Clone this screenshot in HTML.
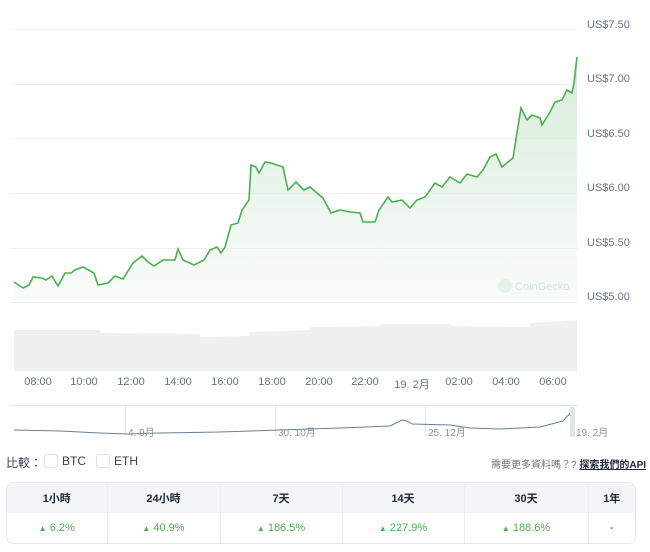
<!DOCTYPE html>
<html><head><meta charset="utf-8"><style>
body{margin:0;width:650px;height:552px;background:#fff;font-family:"Liberation Sans","Noto Sans CJK TC",sans-serif;position:relative;overflow:hidden}
.a{position:absolute}
.yl{position:absolute;left:587px;font-size:11px;color:#6b7280}
.xl{position:absolute;top:376px;font-size:11px;color:#6b7280;transform:translateX(-50%)}
table{border-collapse:collapse;table-layout:fixed}
</style></head><body>
<svg class="a" style="left:0;top:0" width="650" height="450">
<defs>
<linearGradient id="g" x1="0" y1="0" x2="0" y2="1"><stop offset="0" stop-color="#c9e4cc" stop-opacity=".8"/><stop offset="1" stop-color="#eef6ef" stop-opacity=".4"/></linearGradient>
</defs>
<g stroke="#eef0f2" stroke-width="1">
<line x1="11" x2="578" y1="29.5" y2="29.5"/><line x1="11" x2="578" y1="84.5" y2="84.5"/><line x1="11" x2="578" y1="138.5" y2="138.5"/><line x1="11" x2="578" y1="193.5" y2="193.5"/><line x1="11" x2="578" y1="248.5" y2="248.5"/><line x1="11" x2="578" y1="302.5" y2="302.5"/>
</g>
<path d="M14,282 L23,288 L29,285 L33,277 L42,278 L46,280 L52,276 L58,286 L65,273 L71,273 L75,270 L83,267 L94,273 L98,285 L108,283 L115,276 L123,279 L133,263 L142,256 L148,262 L154,266 L163,260 L175,260 L178,249 L183,260 L194,265 L204,260 L210,250 L217,247 L221,253 L225,247 L231,225 L238,223 L242,210 L249,200 L251,165 L256,167 L259,173 L265,162 L271,163 L283,167 L288,190 L296,182 L304,190 L310,187 L317,193 L323,198 L331,213 L340,210 L350,212 L360,213 L363,222 L375,222 L379,210 L388,197 L392,202 L402,200 L410,208 L417,200 L425,197 L435,183 L442,187 L450,177 L460,183 L467,174 L477,177 L483,170 L490,157 L496,154 L502,167 L508,162 L513,158 L521,108 L527,120 L532,115 L540,118 L542,125 L550,112 L555,102 L562,100 L567,90 L572,93 L574,83 L577,57 L577,300 L14,300 Z" fill="url(#g)"/>
<path d="M14,282 L23,288 L29,285 L33,277 L42,278 L46,280 L52,276 L58,286 L65,273 L71,273 L75,270 L83,267 L94,273 L98,285 L108,283 L115,276 L123,279 L133,263 L142,256 L148,262 L154,266 L163,260 L175,260 L178,249 L183,260 L194,265 L204,260 L210,250 L217,247 L221,253 L225,247 L231,225 L238,223 L242,210 L249,200 L251,165 L256,167 L259,173 L265,162 L271,163 L283,167 L288,190 L296,182 L304,190 L310,187 L317,193 L323,198 L331,213 L340,210 L350,212 L360,213 L363,222 L375,222 L379,210 L388,197 L392,202 L402,200 L410,208 L417,200 L425,197 L435,183 L442,187 L450,177 L460,183 L467,174 L477,177 L483,170 L490,157 L496,154 L502,167 L508,162 L513,158 L521,108 L527,120 L532,115 L540,118 L542,125 L550,112 L555,102 L562,100 L567,90 L572,93 L574,83 L577,57" fill="none" stroke="#4caf50" stroke-width="1.6"/>
<circle cx="505" cy="286" r="7" fill="#e6f2e7"/>
<text x="515" y="290" font-size="11" fill="#d3e6d5" font-family="Liberation Sans">CoinGecko</text>
<path d="M14,345 L14,330 L100,330 L100,333 L200,334 L200,337 L250,336 L250,332 L310,330 L310,327 L380,326 L380,324 L450,324 L450,326 L530,327 L530,323 L577,320 L577,371 L14,371 Z" fill="#eef2ef"/>
<line x1="11" x2="578" y1="405.5" y2="405.5" stroke="#dfe6df"/>
<line x1="125.5" x2="125.5" y1="406" y2="436" stroke="#e5e7eb"/>
<line x1="275.5" x2="275.5" y1="406" y2="436" stroke="#e5e7eb"/>
<line x1="425.5" x2="425.5" y1="406" y2="436" stroke="#e5e7eb"/>
<path d="M14,430 L60,431 L100,433 L128,434 L160,433 L220,432 L280,430 L340,428 L390,426 L402,420 L407,421 L412,424 L450,425 L470,428 L500,429 L540,427 L563,421 L572,411" fill="none" stroke="#6a7f95" stroke-width="1"/>
<rect x="570" y="407" width="5" height="30" fill="#dfe8df"/>
<text x="128" y="436" font-size="10" fill="#8a9a8a">4. 9月</text>
<text x="278" y="436" font-size="10" fill="#8a9a8a">30. 10月</text>
<text x="428" y="436" font-size="10" fill="#8a9a8a">25. 12月</text>
<text x="576" y="436" font-size="10" fill="#8a9a8a">19. 2月</text>
</svg>
<div class="yl" style="top:19px">US$7.50</div>
<div class="yl" style="top:73px">US$7.00</div>
<div class="yl" style="top:128px">US$6.50</div>
<div class="yl" style="top:182px">US$6.00</div>
<div class="yl" style="top:237px">US$5.50</div>
<div class="yl" style="top:291px">US$5.00</div>
<div class="xl" style="left:38px">08:00</div>
<div class="xl" style="left:84px">10:00</div>
<div class="xl" style="left:131px">12:00</div>
<div class="xl" style="left:178px">14:00</div>
<div class="xl" style="left:225px">16:00</div>
<div class="xl" style="left:272px">18:00</div>
<div class="xl" style="left:319px">20:00</div>
<div class="xl" style="left:365px">22:00</div>
<div class="xl" style="left:412px">19. 2月</div>
<div class="xl" style="left:459px">02:00</div>
<div class="xl" style="left:506px">04:00</div>
<div class="xl" style="left:553px">06:00</div>
<div class="a" style="left:6px;top:454px;font-size:12px;color:#374151">比較：</div>
<div class="a" style="left:44px;top:454px;width:12px;height:12px;border:1px solid #dde2e6;border-radius:3px"></div>
<div class="a" style="left:62px;top:454px;font-size:12px;color:#374151">BTC</div>
<div class="a" style="left:96px;top:454px;width:12px;height:12px;border:1px solid #dde2e6;border-radius:3px"></div>
<div class="a" style="left:114px;top:454px;font-size:12px;color:#374151">ETH</div>
<div class="a" style="left:491px;top:456px;font-size:10px;color:#6b7280">需要更多資料嗎？? <span style="color:#1f2937;font-weight:bold;text-decoration:underline">探索我們的API</span></div>
<div class="a" style="left:6px;top:482px;width:628px;height:60px;border:1px solid #e5e7eb;border-radius:8px;overflow:hidden">
<table style="width:628px;font-size:11px;text-align:center">
<colgroup><col style="width:100px"><col style="width:113px"><col style="width:122px"><col style="width:122px"><col style="width:124px"><col></colgroup>
<tr style="background:#f3f5f6;height:30px;font-weight:bold;color:#1f2937">
<td>1小時</td><td style="border-left:1px solid #eceff1">24小時</td><td style="border-left:1px solid #eceff1">7天</td><td style="border-left:1px solid #eceff1">14天</td><td style="border-left:1px solid #eceff1">30天</td><td style="border-left:1px solid #eceff1">1年</td></tr>
<tr style="height:30px;color:#4caf50">
<td><span style="font-size:8px">▲</span> 6.2%</td><td style="border-left:1px solid #eceff1"><span style="font-size:8px">▲</span> 40.9%</td><td style="border-left:1px solid #eceff1"><span style="font-size:8px">▲</span> 186.5%</td><td style="border-left:1px solid #eceff1"><span style="font-size:8px">▲</span> 227.9%</td><td style="border-left:1px solid #eceff1"><span style="font-size:8px">▲</span> 188.6%</td><td style="border-left:1px solid #eceff1;color:#374151">-</td></tr>
</table></div>
</body></html>
